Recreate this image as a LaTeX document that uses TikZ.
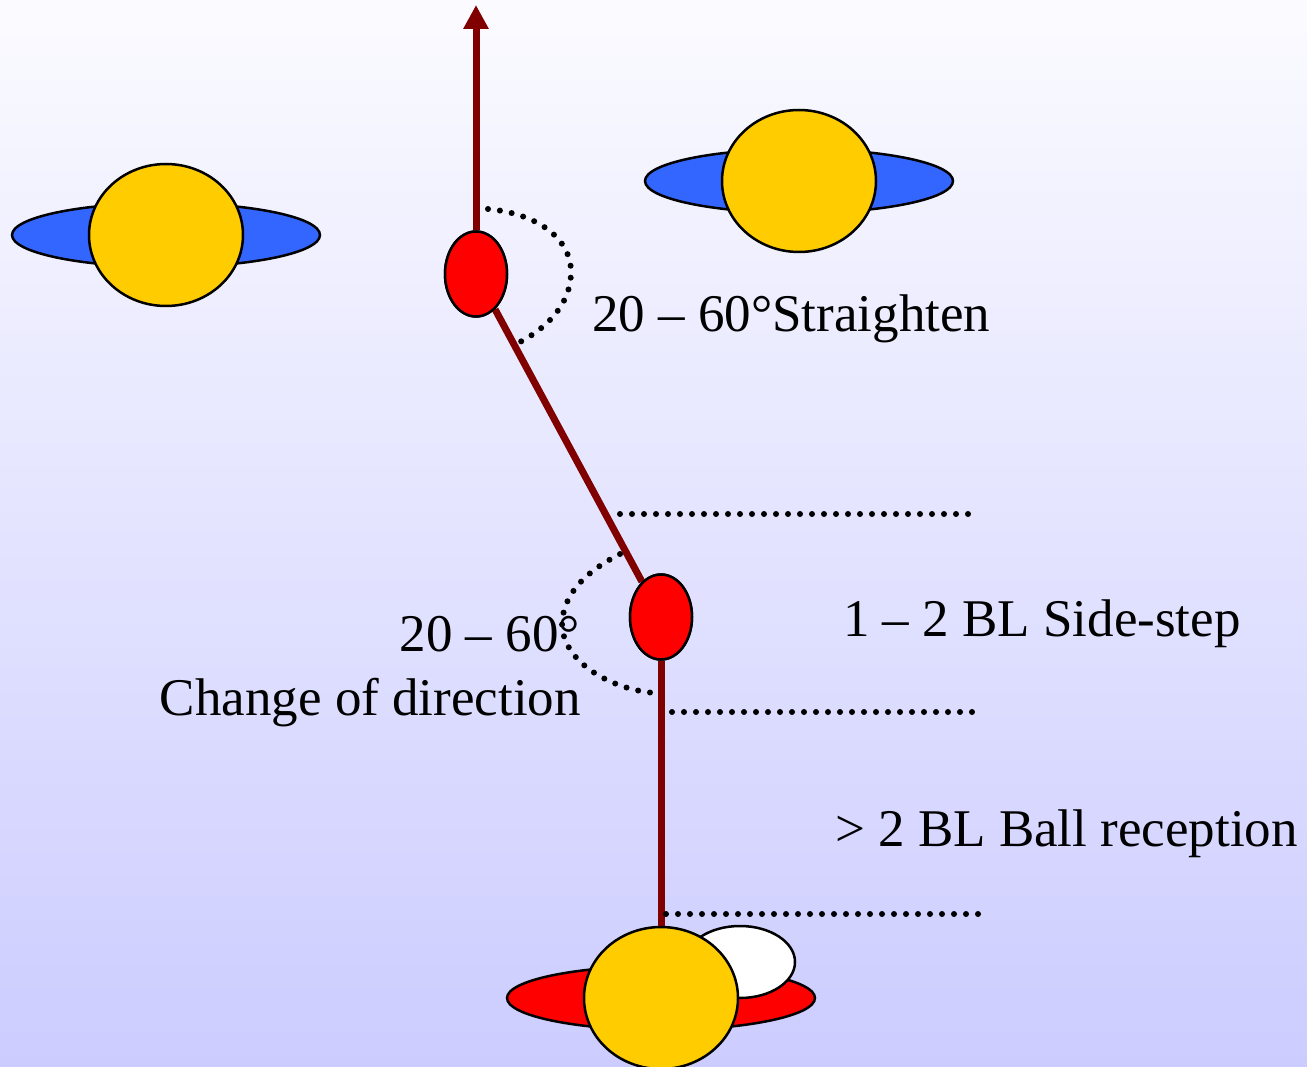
\documentclass[tikz,border=0pt]{standalone}
\usepackage{fontspec}
\setmainfont{Liberation Serif}
\usetikzlibrary{shapes.geometric,arrows.meta}
\definecolor{bgtop}{RGB}{251,251,255}
\definecolor{bgbot}{RGB}{204,204,255}
\definecolor{pyellow}{RGB}{255,204,0}
\definecolor{pblue}{RGB}{51,102,255}
\definecolor{pred}{RGB}{255,0,0}
\definecolor{track}{RGB}{128,0,0}
\tikzset{
  ring/.style={ellipse, draw=black, line width=2.5pt, minimum width=308pt, minimum height=64pt, inner sep=0pt},
  body/.style={ellipse, draw=black, line width=2.5pt, fill=pyellow, minimum width=154pt, minimum height=142pt, inner sep=0pt},
  marker/.style={ellipse, draw=black, line width=2.5pt, fill=pred, minimum width=62pt, minimum height=85pt, inner sep=0pt},
  ballshape/.style={ellipse, draw=black, line width=2.5pt, fill=white, minimum width=110pt, minimum height=72pt, inner sep=0pt},
  trackline/.style={draw=track, line width=7pt},
  dots/.style={line width=6pt, dash pattern=on 0pt off 12pt, line cap=round},
  lbl/.style={inner sep=0pt, font=\fontsize{53}{64}\selectfont}
}
\begin{document}
\begin{tikzpicture}[x=1pt,y=-1pt]
\useasboundingbox (0,0) rectangle (1307,1067);
\shade[top color=bgtop, bottom color=bgbot] (0,0) rectangle (1307,1067);
% players
\node[ring, fill=pblue] (p1ring) at (166,235) {};
\node[body] (p1) at (166,235) {};
\node[ring, fill=pblue] (p2ring) at (799,181) {};
\node[body] (p2) at (799,181) {};
% movement markers
\node[marker] (m1) at (476,274) {};
\node[marker] (m2) at (661,617) {};
% bottom player with ball
\node[ring, fill=pred] (p3ring) at (661,998) {};
\node[ballshape] (ball) at (740,962) {};
\node[body] (p3) at (661,998) {};
\coordinate (top) at (476,5);
% tracks
\draw[trackline] (p3.north) -- (m2.south);
\draw[trackline] (m2) -- (m1);
\draw[trackline, -{Triangle[width=24pt,length=24pt]}] (m1.north) -- (top);
% redraw markers on top of tracks
\node[marker] at (m1) {};
\node[marker] at (m2) {};
% angle arcs
\draw[dots] (488,209) .. controls (540,214) and (571,240) .. (571,272) .. controls (571,305) and (545,330) .. (516,344);
\draw[dots] (620,554) .. controls (585,572) and (562,595) .. (562,626) .. controls (565,665) and (615,690) .. (655,693);
% level lines
\draw[dots] (620,514) -- (970,514);
\draw[dots] (672,712) -- (975,712);
\draw[dots] (666,914) -- (978,914);
% labels
\node[lbl, anchor=base west] (t1) at (592,332) {20 – 60°Straighten};
\node[lbl, anchor=base west] (t2) at (843,636) {1 – 2 BL Side-step};
\node[lbl, anchor=base west] (t3) at (835,846) {> 2 BL Ball reception};
\node[lbl, anchor=base east] (t4) at (580,651) {20 – 60°};
\node[lbl, anchor=base east] (t5) at (581,715) {Change of direction};
\end{tikzpicture}
\end{document}
